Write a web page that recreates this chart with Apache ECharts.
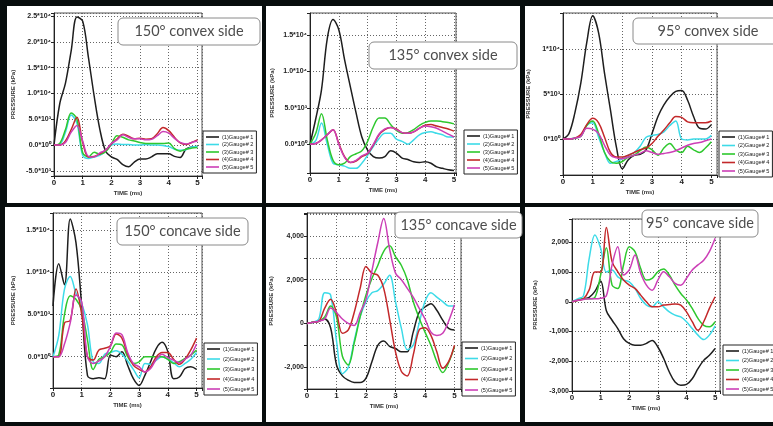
<!DOCTYPE html>
<html>
<head>
<meta charset="utf-8">
<script src="https://cdn.jsdelivr.net/npm/echarts@6/dist/echarts.min.js"></script>
<style>
html, body { margin: 0; padding: 0; background: #070d0d; }
#main { width: 773px; height: 426px; }
</style>
</head>
<body>
<div id="main"></div>
<script>
// time axis (ms), shared by every panel
var time = [0, 0.2, 0.4, 0.6, 0.8, 1.0, 1.2, 1.4, 1.6, 1.8, 2.0, 2.2, 2.4, 2.6, 2.8, 3.0, 3.2, 3.4, 3.6, 3.8, 4.0, 4.2, 4.4, 4.6, 4.8, 5.0];
var gaugeNames = ['(1)Gauge# 1', '(2)Gauge# 2', '(3)Gauge# 3', '(4)Gauge# 4', '(5)Gauge# 5'];
var panelTitles = ['150° convex side', '135° convex side', '95° convex side', '150° concave side', '135° concave side', '95° concave side'];

// 150 convex
var cvx150_g1 = [0, 8000, 12000, 18300, 24800, 24000, 17000, 9500, 3000, -1200, -2300, -2800, -3800, -4200, -3300, -2700, -2700, -2300, -1700, -1700, -1700, -2200, -2400, -800, -400, -300];
var cvx150_g2 = [0, 100, 2500, 5800, 4200, -2000, -2600, -2300, -2000, -1200, 0, 200, 100, 100, 0, 0, 100, 0, 0, -100, -300, -800, -1000, -900, -400, -300];
var cvx150_g3 = [0, 300, 3000, 6200, 5000, -1500, -2300, -1400, -1800, -1300, 200, 1800, 1500, 1000, 800, 500, 300, 300, 300, 300, 400, -700, -1200, -800, -600, -500];
var cvx150_g4 = [0, 0, 800, 3000, 5400, 500, -2300, -2200, -1700, -1000, 200, 1200, 2100, 1700, 1200, 1300, 1100, 1200, 2200, 3400, 2800, 1500, 400, 100, 500, 1000];
var cvx150_g5 = [0, 0, 500, 2500, 3800, 800, -2200, -2300, -1500, -1000, 300, 1000, 2000, 1500, 1200, 1200, 1000, 1100, 1800, 2600, 2300, 1300, 500, 200, 500, 800];

// 135 convex
var cvx135_g1 = [0, 3500, 7500, 14500, 17100, 15700, 11600, 7900, 4300, 1000, -800, -1700, -1900, -1700, -900, -1200, -1900, -2100, -2400, -2500, -2400, -2600, -3100, -3300, -3500, -3600];
var cvx135_g2 = [0, 500, 2900, 0, -2600, -2800, -3000, -3300, -3300, -2600, -1500, -300, 800, 1500, 1500, 700, 400, 0, 600, 1300, 1600, 1700, 1500, 1300, 1000, 1000];
var cvx135_g3 = [0, 1500, 4200, 600, -2200, -2800, -2600, -1700, -1300, -900, 400, 2400, 3600, 3600, 2700, 1900, 1500, 1600, 2000, 2600, 3000, 3200, 3200, 3100, 3000, 2800];
var cvx135_g4 = [0, 100, 600, 1300, 2000, 100, -1700, -2500, -2300, -1700, -1300, -100, 1300, 2000, 2300, 2100, 1600, 1500, 1700, 2200, 2600, 2700, 2500, 2300, 2100, 1800];
var cvx135_g5 = [0, 100, 600, 1300, 2000, 0, -1800, -2500, -2200, -1600, -1200, 0, 1400, 2100, 2300, 2000, 1600, 1500, 1700, 2200, 2500, 2400, 2200, 1800, 1400, 1000];

// 95 convex
var cvx95_g1 = [0, 600, 2900, 6200, 10700, 13700, 11800, 7300, 3200, -900, -3300, -2300, -1800, -1700, -1200, 600, 2500, 3800, 4700, 5300, 5400, 4300, 2500, 1200, 1100, 1600];
var cvx95_g2 = [0, 0, 100, 300, 1500, 1800, 200, -1500, -2700, -2500, -2200, -1800, -1500, -800, 200, 400, 500, 800, 1500, 2000, 0, -100, 0, 0, 0, 400];
var cvx95_g3 = [0, 0, 100, 300, 1500, 2000, 600, -1500, -2500, -2700, -2500, -2000, -1800, -1300, -900, -1200, -1800, -1000, -500, -1200, -1500, -800, -1200, -1500, -1000, -300];
var cvx95_g4 = [0, 0, 100, 500, 1600, 2300, 1800, 200, -1500, -2000, -2000, -1800, -1500, -1200, -1000, -500, 300, 1000, 1800, 2500, 2400, 1900, 1800, 1800, 1800, 2000];
var cvx95_g5 = [0, 0, 100, 300, 1200, 1100, 600, -700, -1800, -2100, -2200, -2000, -1800, -1600, -1300, -1500, -1700, -1600, -1500, -1300, -1000, -700, -500, -400, -200, 0];

// 150 concave
var ccv150_g1 = [6000, 11000, 8500, 16300, 13500, 6000, -2200, -2600, -2500, -2600, 200, 0, 600, -1000, -2600, -3400, -2200, -600, 1000, 1700, 600, -2600, -2400, -1400, -1200, -1500];
var ccv150_g2 = [0, 2500, 8000, 9500, 7500, 6300, 3800, -600, -800, 300, 500, 700, 300, -500, -1500, -2500, -800, -900, -400, 0, -300, -700, -1200, -800, -300, 500];
var ccv150_g3 = [0, 200, 5000, 7200, 6800, 5500, 2000, -1500, -300, 0, 500, 1500, 1400, 0, -800, -600, 0, 0, 0, 0, -300, -800, -600, -200, 200, 800];
var ccv150_g4 = [0, 0, 4000, 4300, 8000, 5000, 0, -400, 800, 1000, 1300, 2700, 2200, 300, -1000, -1500, -1800, -1200, 0, 500, 500, -300, -900, -300, 800, 2200];
var ccv150_g5 = [0, 0, 1500, 4000, 7300, 6500, 0, -800, -500, 0, 1200, 2800, 2600, 500, -800, -1200, -1800, -1400, -300, 300, -100, -400, -700, -300, 200, 1500];

// 135 concave
var ccv135_g1 = [0, 50, 100, 200, -200, -1900, -2400, -2600, -2700, -2700, -2500, -1750, -1000, -800, -1050, -1150, -1300, -1300, -400, 500, 750, 900, 600, 150, -230, -300];
var ccv135_g2 = [0, 50, 200, 1400, 1300, -800, -2300, -2000, -800, 300, 1000, 1400, 1500, 1800, 2200, 1000, -230, -1200, -1000, 0, 1000, 1400, 1200, 1000, 800, 800];
var ccv135_g3 = [0, 50, 100, 300, 800, 300, -1500, -1900, -900, 300, 1300, 2050, 2650, 3300, 3550, 3050, 2650, 2000, 1000, 250, -400, -1000, -1750, -2250, -1800, -1050];
var ccv135_g4 = [0, 50, 100, 700, 1100, 500, -450, -300, 500, 1600, 2600, 2300, 2200, 1600, 200, -1300, -2200, -2400, -1450, -300, -200, -550, -1300, -2050, -1750, -1000];
var ccv135_g5 = [0, 50, 100, 200, 700, 500, 200, 0, -100, 500, 1100, 2400, 3700, 4800, 3400, 2300, 2000, 1600, 1200, 700, 200, -400, -550, -450, 100, 850];

// 95 concave
var ccv95_g1 = [0, 50, 100, 150, 350, 700, -300, -620, -900, -1240, -1400, -1460, -1460, -1400, -1300, -1520, -1900, -2360, -2700, -2810, -2780, -2590, -2250, -1970, -1800, -1570];
var ccv95_g2 = [0, 100, 200, 1450, 2250, 1800, 1000, 1070, 840, 730, 670, 450, 110, -110, -170, 0, -170, -340, -450, -510, -670, -900, -1120, -1270, -1120, -810];
var ccv95_g3 = [0, 50, 100, 100, 150, 900, 1820, 560, 450, 1240, 1850, 1690, 1120, 730, 790, 1010, 1100, 900, 560, 280, 60, -220, -560, -790, -840, -670];
var ccv95_g4 = [0, 50, 100, 400, 1000, 1000, 2500, 1350, 1010, 730, 560, 450, 225, 0, -170, -170, -110, -90, -70, -110, -340, -670, -960, -670, -220, 170];
var ccv95_g5 = [0, 50, 80, 100, 100, 120, 200, 1240, 1850, 900, 1070, 1570, 960, 560, 390, 730, 1010, 840, 620, 560, 790, 1070, 1240, 1400, 1690, 2140];

// y tick labels
var yTicksA = [25000, 20000, 15000, 10000, 5000, 0, -5000];
var yLabelsA = ['2.5*10⁴', '2.0*10⁴', '1.5*10⁴', '1.0*10⁴', '5.0*10³', '0.0*10⁰', '-5.0*10³'];
var yTicksB = [15000, 10000, 5000, 0];
var yLabelsB = ['1.5*10⁴', '1.0*10⁴', '5.0*10³', '0.0*10⁰'];
var yTicksC = [10000, 5000, 0];
var yLabelsC = ['1*10⁴', '5*10³', '0*10⁰'];
var yTicksD = [15000, 10000, 5000, 0];
var yLabelsD = ['1.5*10⁴', '1.0*10⁴', '5.0*10³', '0.0*10⁰'];
var yTicksE = [4000, 2000, 0, -2000];
var yLabelsE = ['4,000', '2,000', '0', '-2,000'];
var yTicksF = [2000, 1000, 0, -1000, -2000, -3000];
var yLabelsF = ['2,000', '1,000', '0', '-1,000', '-2,000', '-3,000'];

var colors = ['#1e1e1e', '#3ddbe8', '#2ec82e', '#c3282a', '#cc3fb6'];

var panels = [
  { data: [cvx150_g1, cvx150_g2, cvx150_g3, cvx150_g4, cvx150_g5], ticks: yTicksA, labels: yLabelsA,
    bg: [7, 6, 255, 197], grid: [54, 13, 148, 163], xMax: 5.16, yMin: -6000, yMax: 25580, step: 5000,
    yNameGap: 38, box: [118, 18, 142, 27], legend: [203, 131, 1.5] },
  { data: [cvx135_g1, cvx135_g2, cvx135_g3, cvx135_g4, cvx135_g5], ticks: yTicksB, labels: yLabelsB,
    bg: [266, 6, 254, 197], grid: [310, 13, 146, 160], xMax: 5.07, yMin: -3940, yMax: 18000, step: 5000,
    yNameGap: 35, box: [369, 42, 148, 27], legend: [464, 130, 2] },
  { data: [cvx95_g1, cvx95_g2, cvx95_g3, cvx95_g4, cvx95_g5], ticks: yTicksC, labels: yLabelsC,
    bg: [525, 6, 248, 197], grid: [563, 13, 154, 162], xMax: 5.19, yMin: -4000, yMax: 14000, step: 5000,
    yNameGap: 32, box: [633, 18, 150, 26], legend: [719, 131, 2.5] },
  { data: [ccv150_g1, ccv150_g2, ccv150_g3, ccv150_g4, ccv150_g5], ticks: yTicksD, labels: yLabelsD,
    bg: [5, 207, 257, 215], grid: [53, 213, 149, 175], xMax: 5.19, yMin: -3700, yMax: 17000, step: 5000,
    yNameGap: 37, box: [117, 218, 131, 27], legend: [204, 343, 4] },
  { data: [ccv135_g1, ccv135_g2, ccv135_g3, ccv135_g4, ccv135_g5], ticks: yTicksE, labels: yLabelsE,
    bg: [266, 207, 254, 215], grid: [307, 213, 154, 176], xMax: 5.22, yMin: -3000, yMax: 5050, step: 1000,
    yNameGap: 33, box: [395, 212, 127, 26], legend: [462, 342, 4.5] },
  { data: [ccv95_g1, ccv95_g2, ccv95_g3, ccv95_g4, ccv95_g5], ticks: yTicksF, labels: yLabelsF,
    bg: [525, 207, 248, 215], grid: [572, 219, 148, 172], xMax: 5.17, yMin: -3000, yMax: 2785, step: 1000,
    yNameGap: 34, box: [642, 210, 116, 27], legend: [723, 345, 3.5] }
];

var grids = [], xAxes = [], yAxes = [], series = [], legends = [], graphics = [];

panels.forEach(function (p, i) {
  graphics.push({
    type: 'rect', z: -10, silent: true,
    shape: { x: p.bg[0], y: p.bg[1], width: p.bg[2], height: p.bg[3] },
    style: { fill: '#ffffff' }
  });
  graphics.push({
    type: 'rect', z: 100, silent: true,
    shape: { x: p.box[0], y: p.box[1], width: p.box[2], height: p.box[3], r: 5 },
    style: { fill: '#ffffff', stroke: '#8a8a8a', lineWidth: 1 }
  });
  graphics.push({
    type: 'text', z: 101, silent: true,
    x: p.box[0] + p.box[2] / 2, y: p.box[1] + p.box[3] / 2,
    style: { text: panelTitles[i], fill: '#4d4d4d', font: '14.5px Lato, "Open Sans", sans-serif',
             textAlign: 'center', textVerticalAlign: 'middle' }
  });

  grids.push({
    left: p.grid[0], top: p.grid[1], width: p.grid[2], height: p.grid[3],
    show: true, borderColor: '#555', borderWidth: 1, backgroundColor: 'transparent'
  });

  xAxes.push({
    type: 'value', gridIndex: i, min: 0, max: p.xMax, interval: 1,
    name: 'TIME (ms)', nameLocation: 'middle', nameGap: 14,
    nameTextStyle: { fontSize: 6, fontWeight: 'bold', color: '#333', fontFamily: 'Liberation Sans' },
    axisLine: { onZero: false, lineStyle: { color: '#222', width: 1 } },
    axisTick: { show: true, length: 3, lineStyle: { color: '#222' } },
    axisLabel: {
      fontSize: 8, fontWeight: 'bold', color: '#222', margin: 3, fontFamily: 'Liberation Sans',
      formatter: function (v) { return Math.abs(v - Math.round(v)) < 1e-6 ? String(Math.round(v)) : ''; }
    },
    splitLine: { show: true, lineStyle: { color: '#666', type: [1, 2], width: 1 } }
  });

  var yAxis = {
    type: 'value', gridIndex: i, min: p.yMin, max: p.yMax,
    name: 'PRESSURE (kPa)', nameLocation: 'middle', nameGap: p.yNameGap, nameRotate: 90,
    nameTextStyle: { fontSize: 6, fontWeight: 'bold', color: '#333', fontFamily: 'Liberation Sans' },
    axisLine: { show: true, lineStyle: { color: '#222', width: 1 } },
    axisTick: { show: true, length: 3, lineStyle: { color: '#222' } },
    axisLabel: {
      fontSize: 7, fontWeight: 'bold', color: '#222', margin: 3, fontFamily: 'Liberation Sans',
      formatter: function (v) {
        var k = p.ticks.indexOf(Math.round(v));
        return (k >= 0 && Math.abs(v - Math.round(v)) < 1e-6) ? p.labels[k] : '';
      }
    },
    splitLine: { show: true, lineStyle: { color: '#666', type: [1, 2], width: 1 } }
  };
  if (p.yMin % p.step === 0) {
    yAxis.interval = p.step;
  } else {
    yAxis.minInterval = p.step;
    yAxis.maxInterval = p.step;
  }
  yAxes.push(yAxis);

  p.data.forEach(function (vals, j) {
    series.push({
      name: gaugeNames[j], type: 'line', xAxisIndex: i, yAxisIndex: i,
      data: time.map(function (t, k) { return [t, vals[k]]; }),
      symbol: 'none', showSymbol: false, smooth: 0.35, z: 3 + (j === 0 ? 0 : 1),
      lineStyle: { color: colors[j], width: 1.5 },
      itemStyle: { color: colors[j] }
    });
  });

  legends.push({
    orient: 'vertical', left: p.legend[0], top: p.legend[1],
    data: gaugeNames.map(function (n) { return { name: n, icon: 'rect' }; }),
    selectedMode: false,
    itemWidth: 13, itemHeight: 1.6, itemGap: p.legend[2],
    padding: [3, 3], backgroundColor: '#fff', borderColor: '#222', borderWidth: 1,
    textStyle: { fontSize: 5.6, color: '#222', fontFamily: 'Liberation Sans', padding: [0, 0, 0, -2] }
  });
});

var myChart = echarts.init(document.getElementById('main'));
myChart.setOption({
  animation: false,
  backgroundColor: '#070d0d',
  color: colors,
  graphic: graphics,
  grid: grids,
  xAxis: xAxes,
  yAxis: yAxes,
  legend: legends,
  series: series
});
</script>
</body>
</html>
